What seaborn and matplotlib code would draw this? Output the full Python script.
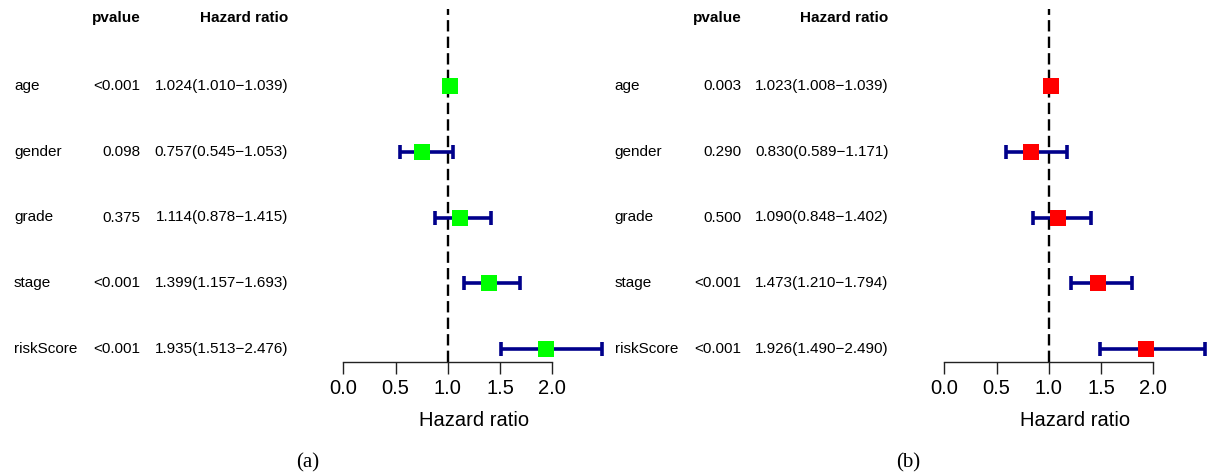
"""
Forest plots of univariate (a) and multivariate (b) Cox regression.
"""

import matplotlib
matplotlib.use("Agg")
import matplotlib.pyplot as plt
import matplotlib.transforms as mtransforms
import pandas as pd
import seaborn as sns

# data
variables = ["age", "gender", "grade", "stage", "riskScore"]

uni_pvalue = ["<0.001", "0.098", "0.375", "<0.001", "<0.001"]
uni_hr = [1.024, 0.757, 1.114, 1.399, 1.935]
uni_low = [1.010, 0.545, 0.878, 1.157, 1.513]
uni_high = [1.039, 1.053, 1.415, 1.693, 2.476]

multi_pvalue = ["0.003", "0.290", "0.500", "<0.001", "<0.001"]
multi_hr = [1.023, 0.830, 1.090, 1.473, 1.926]
multi_low = [1.008, 0.589, 0.848, 1.210, 1.490]
multi_high = [1.039, 1.171, 1.402, 1.794, 2.490]

x_ticks = [0.0, 0.5, 1.0, 1.5, 2.0]

W, H = 1207, 475
PX_PER_UNIT = 104.5

sns.set_theme(style="white")
plt.rcParams["font.family"] = ["Liberation Sans", "DejaVu Sans"]
plt.rcParams["text.color"] = "black"
plt.rcParams["xtick.color"] = "black"
plt.rcParams["axes.labelcolor"] = "black"


def forest_panel(fig, left_px, zero_px, name_px, p_px, hr_px, label, label_px,
                 pvalue, hr, low, high, color):
    df = pd.DataFrame({
        "variable": variables,
        "pvalue": pvalue,
        "hr": hr,
        "low": low,
        "high": high,
    })
    df["row"] = list(range(len(df), 0, -1))

    # axes spans from the panel's left edge down to the axis line at y=362px
    right_px = zero_px + 2.5 * PX_PER_UNIT
    ax = fig.add_axes([left_px / W, (H - 362) / H,
                       (right_px - left_px) / W, 362 / H])
    ax.set_xlim((left_px - zero_px) / PX_PER_UNIT, 2.5)
    row_px = 65.75
    ax.set_ylim(1 - 13 / row_px, 1 + 349 / row_px)

    ax.axvline(1, ymax=0.975, color="black", lw=1.7, ls=(0, (4.8, 2.2)), zorder=1)

    ax.errorbar(df["hr"], df["row"],
                xerr=[df["hr"] - df["low"], df["high"] - df["hr"]],
                fmt="none", ecolor="#00008B", elinewidth=2.6,
                capsize=5.2, capthick=2.6, zorder=2)
    sns.scatterplot(data=df, x="hr", y="row", marker="s", s=130,
                    color=color, edgecolor=color, linewidth=0, ax=ax, zorder=3)

    # text table
    trans = mtransforms.blended_transform_factory(fig.transFigure, ax.transData)
    header_y = 1 + (349 - 18) / row_px
    ax.text(p_px / W, header_y, "pvalue", transform=trans, ha="right",
            va="center", fontsize=11, fontweight="bold")
    ax.text(hr_px / W, header_y, "Hazard ratio", transform=trans, ha="right",
            va="center", fontsize=11, fontweight="bold")
    for _, r in df.iterrows():
        ax.text(name_px / W, r["row"], r["variable"], transform=trans,
                ha="left", va="center", fontsize=11)
        ax.text(p_px / W, r["row"], r["pvalue"], transform=trans,
                ha="right", va="center", fontsize=11)
        ax.text(hr_px / W, r["row"],
                f"{r['hr']:.3f}({r['low']:.3f}\u2212{r['high']:.3f})",
                transform=trans, ha="right", va="center", fontsize=11)

    # R-style axis: only bottom line from first to last tick
    for side in ["top", "right", "left"]:
        ax.spines[side].set_visible(False)
    ax.spines["bottom"].set_bounds(x_ticks[0], x_ticks[-1])
    ax.spines["bottom"].set_color("#222222")
    ax.spines["bottom"].set_linewidth(1.0)
    ax.set_xticks(x_ticks)
    ax.set_xticklabels([f"{t:.1f}" for t in x_ticks])
    ax.tick_params(axis="x", bottom=True, length=8.5, width=1.0,
                   color="#222222", pad=4, labelsize=14.5)
    ax.set_yticks([])
    ax.set_xlabel("")
    ax.set_ylabel("")
    ax.patch.set_alpha(0)

    xt = mtransforms.blended_transform_factory(ax.transData, fig.transFigure)
    ax.text(1.25, (H - 421) / H, "Hazard ratio", transform=xt, ha="center",
            va="center", fontsize=14.5)
    fig.text(label_px / W, (H - 463) / H, label, ha="center", va="center",
             fontsize=15, family=["Liberation Serif", "DejaVu Serif"])
    return ax


fig = plt.figure(figsize=(W / 100, H / 100), dpi=100)

forest_panel(fig, 0, 343.3, 14, 140.5, 288, "(a)", 308,
             uni_pvalue, uni_hr, uni_low, uni_high, "#00FF00")
forest_panel(fig, 601, 944.3, 614.5, 741.5, 888.5, "(b)", 908,
             multi_pvalue, multi_hr, multi_low, multi_high, "#FF0000")

fig.savefig("out.png", dpi=100, facecolor="white")
